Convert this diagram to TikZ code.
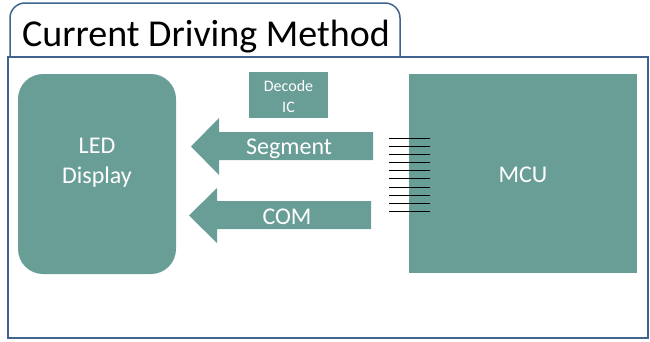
\documentclass[tikz,border=0pt]{standalone}
\usepackage{fontspec}
\setmainfont{Carlito}
\definecolor{teal1}{HTML}{699E97}
\definecolor{frame1}{HTML}{41648F}
\tikzset{
  box/.style={fill=teal1, draw=none, text=white, align=center},
  framestyle/.style={draw=frame1, line width=1.5pt},
  bigarrow/.style={fill=teal1, draw=none},
  pin/.style={draw=black, line width=0.8pt}
}
\begin{document}
\begin{tikzpicture}[x=1pt,y=-1pt]
\useasboundingbox (0,0) rectangle (650,341);
% tab
\draw[framestyle] (10,57) -- (10,18) arc[start angle=180,end angle=270,radius=15] -- (385,3) arc[start angle=270,end angle=360,radius=15] -- (400,57);
\node[font=\fontsize{38}{44}\selectfont, anchor=center] (title) at (206,37) {Current Driving Method};
% main box
\draw[framestyle] (8,57) rectangle (648,338);
% LED display
\node[box, rounded corners=25pt, minimum width=158pt, minimum height=200pt] (led) at (97,174) {};
\node[text=white, align=center, font=\fontsize{24}{30}\selectfont] (ledtext) at (97,163) {LED\\Display};
% Decode IC
\node[box, minimum width=79pt, minimum height=46pt] (dec) at (288.5,95) {};
\node[text=white, align=center, font=\fontsize{16}{21}\selectfont] (dectext) at (288.5,96) {Decode\\IC};
% MCU
\node[box, minimum width=228pt, minimum height=199pt] (mcu) at (523,173.5) {};
\node[text=white, font=\fontsize{24}{30}\selectfont] (mcutext) at (523,175) {MCU};
% arrows
\fill[bigarrow] (191,146.5) -- (219,118) -- (219,132) -- (373,132) -- (373,160) -- (219,160) -- (219,175) -- cycle;
\node[text=white, font=\fontsize{24}{30}\selectfont] (seg) at (289,149) {Segment};
\fill[bigarrow] (189,215.5) -- (217,188) -- (217,201) -- (371,201) -- (371,229) -- (217,229) -- (217,243) -- cycle;
\node[text=white, font=\fontsize{24}{30}\selectfont] (com) at (287,217) {COM};
% pins
\foreach \i in {0,...,9} {
  \draw[pin] (389,{138.3+\i*8.1}) -- (430,{138.3+\i*8.1});
}
\end{tikzpicture}
\end{document}
